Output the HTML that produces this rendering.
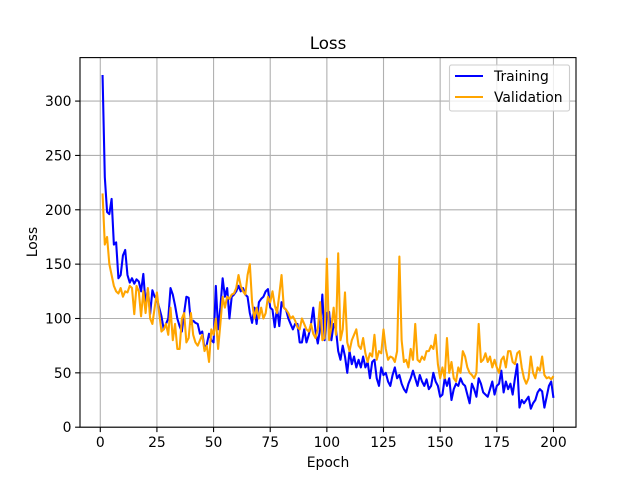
<!DOCTYPE html>
<html><head><meta charset="utf-8"><style>body{margin:0;background:#fff}svg{display:block;font-family:"DejaVu Sans","Liberation Sans",sans-serif}</style></head>
<body>
<svg id="chart" width="640" height="480" viewBox="0 0 640 480">
<rect width="640" height="480" fill="#fff"/>
<g id="grid"></g>
<g id="ticks"></g>
<g id="series"></g>
<rect x="80" y="57.6" width="496" height="369.6" fill="none" stroke="#000" stroke-width="1.1"/>
<text x="328" y="49" text-anchor="middle" font-size="16.7">Loss</text>
<text x="328" y="467" text-anchor="middle" font-size="13.9">Epoch</text>
<text x="0" y="0" transform="translate(37,242) rotate(-90)" text-anchor="middle" font-size="13.9">Loss</text>
<g>
<rect x="449.5" y="65" width="120" height="46" rx="2" fill="#fff" fill-opacity="0.8" stroke="#ccc" stroke-width="1.1"/>
<g><line x1="455" y1="76" x2="483" y2="76" stroke="blue" stroke-width="2.08"/><text x="494" y="81" font-size="13.9">Training</text></g>
<g><line x1="455" y1="97" x2="483" y2="97" stroke="orange" stroke-width="2.08"/><text x="494" y="102" font-size="13.9">Validation</text></g>
</g>
</svg>
<script>
const training=[324,230,198,196,210,168,170,137,140,158,163,140,133,137,132,136,134,125,141,113,127,104,126,120,118,110,102,90,95,100,128,122,112,100,93,88,105,120,119,95,98,96,95,86,88,72,76,86,80,78,130,90,110,137,120,128,100,120,122,125,130,125,128,122,120,105,96,110,95,115,118,120,125,127,110,108,92,110,93,115,110,108,100,95,90,95,95,78,78,90,78,85,95,110,88,77,90,122,80,105,106,80,95,90,70,62,75,65,50,70,58,65,55,62,55,65,55,60,45,60,62,45,38,55,48,50,42,38,48,55,45,48,40,35,32,40,45,52,45,38,48,42,38,44,35,38,50,42,38,28,30,45,38,45,25,35,40,38,45,40,38,30,22,40,35,28,45,40,32,30,28,35,42,30,38,40,52,32,42,35,40,30,45,58,18,25,22,25,28,17,22,25,32,35,33,18,28,38,42,27];
const validation=[215,168,175,150,140,130,125,123,128,120,125,124,130,128,104,130,125,102,125,105,128,100,95,110,124,105,88,90,95,85,110,80,95,72,72,100,105,78,82,105,85,78,75,80,85,70,75,60,90,85,100,72,95,120,110,120,118,122,123,128,140,130,125,122,140,150,115,100,110,100,110,100,105,120,115,125,112,105,122,140,110,108,105,100,102,98,92,90,100,95,90,88,95,86,82,90,115,80,82,155,80,92,110,85,160,80,90,124,78,70,80,85,90,75,72,82,68,60,68,65,85,62,70,68,90,72,62,65,64,60,70,157,80,60,62,55,72,62,95,62,60,65,62,70,70,75,72,85,58,45,55,45,82,50,60,45,42,55,50,70,65,55,50,48,45,50,95,60,62,68,60,65,55,62,55,50,62,65,55,70,70,60,58,68,70,55,45,40,45,65,50,45,55,52,65,48,45,46,44,47];
const xTicks=[0,25,50,75,100,125,150,175,200];
const yTicks=[0,50,100,150,200,250,300];
const X0=80,X1=576,Y0=427.2,Y1=57.6,xmin=-8.95,xmax=209.95,ymin=0,ymax=340;
const sx=v=>X0+(v-xmin)/(xmax-xmin)*(X1-X0);
const sy=v=>Y0-(v-ymin)/(ymax-ymin)*(Y0-Y1);
const NS='http://www.w3.org/2000/svg';
const grid=document.getElementById('grid'),ticks=document.getElementById('ticks'),series=document.getElementById('series');
function mk(t,a,p){const e=document.createElementNS(NS,t);for(const k in a)e.setAttribute(k,a[k]);p.appendChild(e);return e;}
xTicks.forEach(v=>{const x=sx(v);
const g=mk('line',{x1:x,x2:x,y1:Y1,y2:Y0,stroke:'#b0b0b0','stroke-width':1.1},grid);


const t=mk('line',{x1:x,x2:x,y1:Y0,y2:Y0+4.9,stroke:'#000','stroke-width':1.1},ticks);


const l=mk('text',{x:x,y:Y0+20,'text-anchor':'middle','font-size':13.9},ticks);l.textContent=v;

});
yTicks.forEach(v=>{const y=sy(v);
const g=mk('line',{x1:X0,x2:X1,y1:y,y2:y,stroke:'#b0b0b0','stroke-width':1.1},grid);


const t=mk('line',{x1:X0-4.9,x2:X0,y1:y,y2:y,stroke:'#000','stroke-width':1.1},ticks);


const l=mk('text',{x:X0-8.5,y:y+5,'text-anchor':'end','font-size':13.9},ticks);l.textContent=v;

});
function line(arr,c,n){const d=arr.map((v,i)=>(i?'L':'M')+sx(i+1).toFixed(2)+','+sy(v).toFixed(2)).join('');
const p=mk('path',{d:d,fill:'none',stroke:c,'stroke-width':2.08,'stroke-linejoin':'round'},series);

}
line(training,'blue','training-line');
line(validation,'orange','validation-line');
</script>
</body></html>
